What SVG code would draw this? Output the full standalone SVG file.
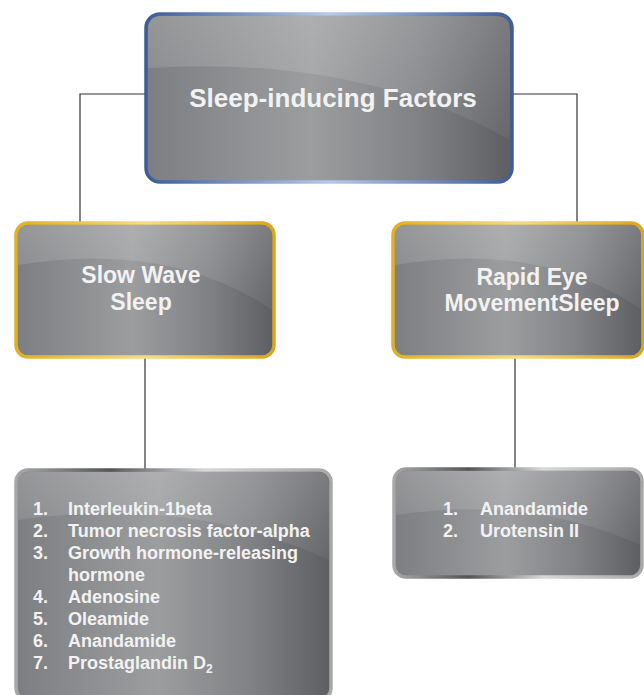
<svg xmlns="http://www.w3.org/2000/svg" width="644" height="695" viewBox="0 0 644 695">
<defs>
<linearGradient id="fill" x1="0" y1="0" x2="1" y2="0">
<stop offset="0" stop-color="#7d7e81"/>
<stop offset="0.45" stop-color="#9c9d9f"/>
<stop offset="0.75" stop-color="#808184"/>
<stop offset="1" stop-color="#5d5e62"/>
</linearGradient>
<linearGradient id="gloss" x1="0" y1="0" x2="0" y2="1">
<stop offset="0" stop-color="#ffffff" stop-opacity="0.18"/>
<stop offset="1" stop-color="#ffffff" stop-opacity="0.05"/>
</linearGradient>
<linearGradient id="blue" x1="0" y1="0" x2="1" y2="0">
<stop offset="0" stop-color="#3d5c99"/>
<stop offset="0.5" stop-color="#b8c8e8"/>
<stop offset="1" stop-color="#3d5c99"/>
</linearGradient>
<linearGradient id="gold" x1="0" y1="0" x2="1" y2="0">
<stop offset="0" stop-color="#e0b020"/>
<stop offset="0.5" stop-color="#f6dc80"/>
<stop offset="1" stop-color="#d9a61c"/>
</linearGradient>
<linearGradient id="silver" x1="0" y1="0" x2="1" y2="0">
<stop offset="0" stop-color="#a8a8a8"/>
<stop offset="0.3" stop-color="#555"/>
<stop offset="0.6" stop-color="#d8d8d8"/>
<stop offset="1" stop-color="#a8a8a8"/>
</linearGradient>
</defs>
<style>
.conn{stroke:#333;stroke-width:1.2;fill:none}
.box{fill:url(#fill);stroke-width:3.5}
.t{font-family:"Liberation Sans",Arial,sans-serif;font-weight:bold;fill:#f2f2f2}
.h{font-size:26px;text-anchor:middle}
.m{font-size:23px;text-anchor:middle}
.l{font-size:18px}
</style>
<g id="connectors">
<path class="conn" d="M145,94 H80 V222"/>
<path class="conn" d="M513,94 H577 V222"/>
<path class="conn" d="M145,358 V470"/>
<path class="conn" d="M515,358 V468"/>
</g>
<g id="root">
<rect class="box" x="146" y="14" width="366" height="168" rx="14" stroke="url(#blue)"/>
<path d="M148,68 Q360,55 510,140 V30 Q510,16 496,16 H162 Q148,16 148,30 Z" fill="url(#gloss)"/>
<text class="t h" x="333" y="107">Sleep-inducing Factors</text>
</g>
<g id="sws">
<rect class="box" x="16" y="223" width="258" height="134" rx="12" stroke="url(#gold)"/>
<path d="M18,265 Q170,240 272,310 V236 Q272,225 260,225 H30 Q18,225 18,236 Z" fill="url(#gloss)"/>
<text class="t m" x="141" y="283">Slow Wave</text>
<text class="t m" x="141" y="310">Sleep</text>
</g>
<g id="rem">
<rect class="box" x="393" y="223" width="250" height="134" rx="12" stroke="url(#gold)"/>
<path d="M395,265 Q540,240 642,310 V236 Q642,225 630,225 H407 Q395,225 395,236 Z" fill="url(#gloss)"/>
<text class="t m" x="532" y="285">Rapid Eye</text>
<text class="t m" x="532" y="311">MovementSleep</text>
</g>
<g id="swslist">
<rect class="box" x="16" y="470" width="315" height="230" rx="12" stroke="url(#silver)"/>
<path d="M18,520 Q190,495 329,560 V484 Q329,472 317,472 H30 Q18,472 18,484 Z" fill="url(#gloss)"/>
<g class="t l">
<text x="33" y="515">1.</text><text x="68" y="515">Interleukin-1beta</text>
<text x="33" y="537">2.</text><text x="68" y="537">Tumor necrosis factor-alpha</text>
<text x="33" y="559">3.</text><text x="68" y="559">Growth hormone-releasing</text>
<text x="68" y="581">hormone</text>
<text x="33" y="603">4.</text><text x="68" y="603">Adenosine</text>
<text x="33" y="625">5.</text><text x="68" y="625">Oleamide</text>
<text x="33" y="647">6.</text><text x="68" y="647">Anandamide</text>
<text x="33" y="669">7.</text><text x="68" y="669">Prostaglandin D<tspan font-size="12" dy="4">2</tspan></text>
</g>
</g>
<g id="remlist">
<rect class="box" x="394" y="469" width="248" height="108" rx="12" stroke="url(#silver)"/>
<path d="M396,515 Q530,495 640,545 V483 Q640,471 628,471 H408 Q396,471 396,483 Z" fill="url(#gloss)"/>
<g class="t l">
<text x="443" y="515">1.</text><text x="480" y="515">Anandamide</text>
<text x="443" y="537">2.</text><text x="480" y="537">Urotensin II</text>
</g>
</g>
</svg>
